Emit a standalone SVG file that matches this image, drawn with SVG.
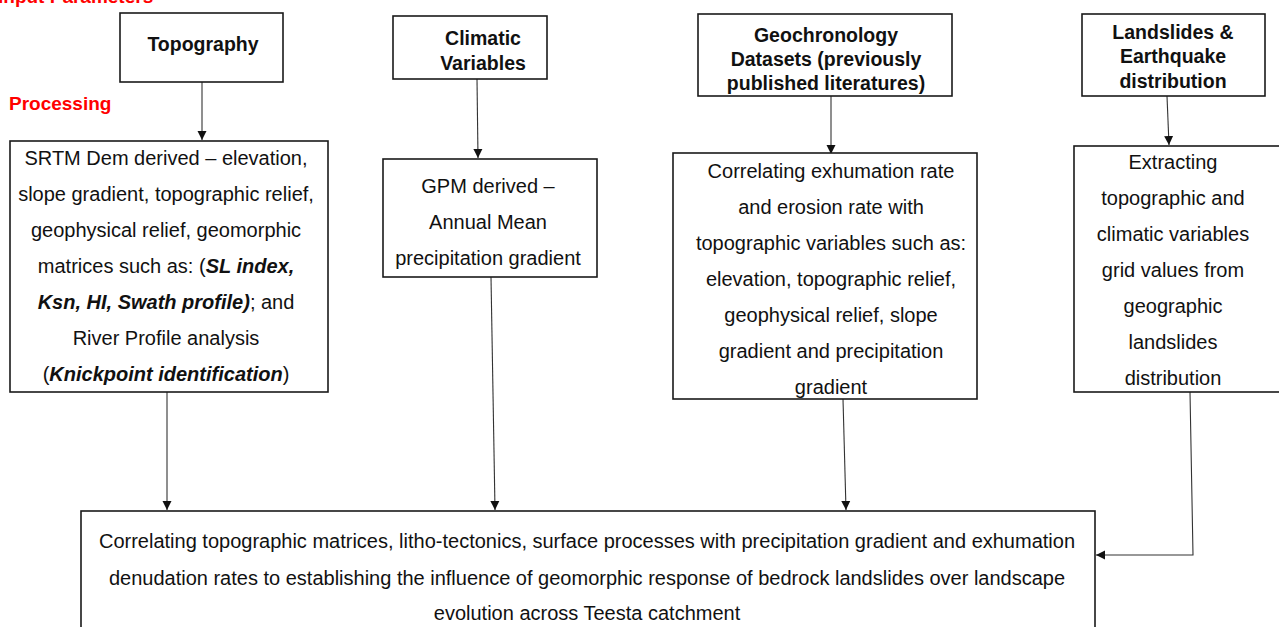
<svg xmlns="http://www.w3.org/2000/svg" width="1279" height="627" viewBox="0 0 1279 627">
<style>
.box{fill:#fff;stroke:#1a1a1a;stroke-width:1.6}
.t{font-family:"Liberation Sans",Arial,sans-serif;font-size:20px;fill:#111;text-anchor:middle}
.b{font-family:"Liberation Sans",Arial,sans-serif;font-size:19.5px;font-weight:bold;fill:#111;text-anchor:middle}
.red{font-family:"Liberation Sans",Arial,sans-serif;font-size:19px;font-weight:bold;fill:#ff0000}
.c{fill:none;stroke:#333;stroke-width:1.1}
.bi{font-weight:bold;font-style:italic}
</style>
<defs>
<marker id="ah" markerWidth="10" markerHeight="10" refX="9" refY="5" orient="auto" markerUnits="userSpaceOnUse">
<path d="M0,0.5 L9,5 L0,9.5 Z" fill="#111"/>
</marker>
</defs>
<rect width="1279" height="627" fill="#fff"/>
<text class="red" x="-2" y="3">Input Parameters</text>
<text class="red" x="9" y="110">Processing</text>

<g id="connectors">
<path class="c" d="M202,82 L202,140" marker-end="url(#ah)"/>
<path class="c" d="M477,79 L478,158" marker-end="url(#ah)"/>
<path class="c" d="M831,96 L831,154" marker-end="url(#ah)"/>
<path class="c" d="M1167,96 L1169,145" marker-end="url(#ah)"/>
<path class="c" d="M167,392 L167,510" marker-end="url(#ah)"/>
<path class="c" d="M491,277 L495,510" marker-end="url(#ah)"/>
<path class="c" d="M843,399 L846,510" marker-end="url(#ah)"/>
<path class="c" d="M1190,392 L1193,555 L1096,555" marker-end="url(#ah)"/>
</g>

<g id="topography">
<rect class="box" x="120" y="13" width="163" height="69"/>
<text class="b" x="203" y="51">Topography</text>
</g>

<g id="climatic">
<rect class="box" x="393" y="16" width="154" height="63"/>
<text class="b" x="483" y="45">Climatic</text>
<text class="b" x="483" y="70">Variables</text>
</g>

<g id="geochronology">
<rect class="box" x="698" y="14" width="254" height="82"/>
<text class="b" x="826" y="42">Geochronology</text>
<text class="b" x="826" y="66">Datasets (previously</text>
<text class="b" x="826" y="90">published literatures)</text>
</g>

<g id="landslides">
<rect class="box" x="1082" y="14" width="183" height="82"/>
<text class="b" x="1173" y="39">Landslides &amp;</text>
<text class="b" x="1173" y="63">Earthquake</text>
<text class="b" x="1173" y="88">distribution</text>
</g>

<g id="srtm">
<rect class="box" x="10" y="141" width="318" height="251"/>
<text class="t" x="166" y="165">SRTM Dem derived – elevation,</text>
<text class="t" x="166" y="201">slope gradient, topographic relief,</text>
<text class="t" x="166" y="237">geophysical relief, geomorphic</text>
<text class="t" x="166" y="273">matrices such as: (<tspan class="bi">SL index,</tspan></text>
<text class="t" x="166" y="309"><tspan class="bi">Ksn, HI, Swath profile)</tspan>; and</text>
<text class="t" x="166" y="345">River Profile analysis</text>
<text class="t" x="166" y="381">(<tspan class="bi">Knickpoint identification</tspan>)</text>
</g>

<g id="gpm">
<rect class="box" x="383" y="159" width="214" height="118"/>
<text class="t" x="488" y="193">GPM derived –</text>
<text class="t" x="488" y="229">Annual Mean</text>
<text class="t" x="488" y="265">precipitation gradient</text>
</g>

<g id="exhumation">
<rect class="box" x="673" y="153" width="304" height="246"/>
<text class="t" x="831" y="178">Correlating exhumation rate</text>
<text class="t" x="831" y="214">and erosion rate with</text>
<text class="t" x="831" y="250">topographic variables such as:</text>
<text class="t" x="831" y="286">elevation, topographic relief,</text>
<text class="t" x="831" y="322">geophysical relief, slope</text>
<text class="t" x="831" y="358">gradient and precipitation</text>
<text class="t" x="831" y="394">gradient</text>
</g>

<g id="extracting">
<rect class="box" x="1074" y="146" width="210" height="246"/>
<text class="t" x="1173" y="169">Extracting</text>
<text class="t" x="1173" y="205">topographic and</text>
<text class="t" x="1173" y="241">climatic variables</text>
<text class="t" x="1173" y="277">grid values from</text>
<text class="t" x="1173" y="313">geographic</text>
<text class="t" x="1173" y="349">landslides</text>
<text class="t" x="1173" y="385">distribution</text>
</g>

<g id="result">
<rect class="box" x="81" y="511" width="1014" height="130"/>
<text class="t" x="587" y="548">Correlating topographic matrices, litho-tectonics, surface processes  with precipitation gradient and exhumation</text>
<text class="t" x="587" y="585">denudation rates to establishing the influence of  geomorphic response of bedrock landslides over landscape</text>
<text class="t" x="587" y="620">evolution across Teesta catchment</text>
</g>
</svg>
